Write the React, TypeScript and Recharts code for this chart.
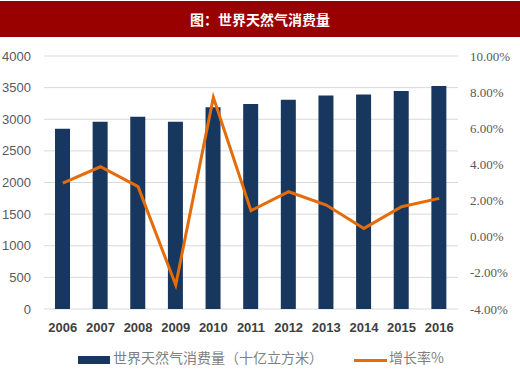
import React from 'react';
import { ComposedChart, Bar, Line, XAxis, YAxis, CartesianGrid } from 'recharts';

const years = ['2006', '2007', '2008', '2009', '2010', '2011', '2012', '2013', '2014', '2015', '2016'];
const consumption = [2850, 2960, 3040, 2960, 3190, 3240, 3310, 3375, 3390, 3447, 3527];
const growth = [2.97, 3.87, 2.77, -2.67, 7.71, 1.44, 2.49, 1.75, 0.46, 1.66, 2.12];
const leftTicks = [0, 500, 1000, 1500, 2000, 2500, 3000, 3500, 4000];
const rightTicks = [-4, -2, 0, 2, 4, 6, 8, 10];

const title = '图：世界天然气消费量';
const barName = '世界天然气消费量（十亿立方米）';
const lineName = '增长率%';

const data = years.map((y, i) => ({ year: y, consumption: consumption[i], growth: growth[i] }));

export default function App() {
  return (
    <div style={{ position: 'absolute', left: 0, top: 0, width: 520, height: 371, background: '#fff', overflow: 'hidden' }}>
      <div
        style={{
          position: 'absolute', left: 0, top: 1, width: 520, height: 36, background: '#990000',
          color: '#fff', fontFamily: '"Noto Sans CJK SC", sans-serif', fontWeight: 700, fontSize: 14,
          lineHeight: '36px', textAlign: 'center', letterSpacing: 0,
        }}
      >
        {title}
      </div>
      <div style={{ position: 'absolute', left: 0, top: 0 }}>
        <ComposedChart width={520} height={371} data={data} margin={{ top: 56, right: 0, bottom: 32, left: 0 }}>
          <CartesianGrid vertical={false} stroke="#d9d9d9" yAxisId="left" />
          <XAxis
            dataKey="year"
            axisLine={false}
            tickLine={false}
            height={30}
            tickMargin={8}
            interval={0}
            tick={{ fill: '#404040', fontSize: 13, fontWeight: 700, fontFamily: '"Liberation Sans", sans-serif' }}
          />
          <YAxis
            yAxisId="left"
            orientation="left"
            width={44}
            domain={[0, 4000]}
            ticks={leftTicks}
            axisLine={false}
            tickLine={false}
            tickMargin={7}
            tick={{ fill: '#595959', fontSize: 13, fontFamily: '"Liberation Sans", sans-serif' }}
          />
          <YAxis
            yAxisId="right"
            orientation="right"
            width={62}
            domain={[-4, 10]}
            ticks={rightTicks}
            axisLine={false}
            tickLine={false}
            tickMargin={6}
            tickFormatter={(v: number) => `${v.toFixed(2)}%`}
            tick={{ fill: '#595959', fontSize: 13, fontFamily: '"Liberation Serif", serif' }}
          />
          <Bar yAxisId="left" dataKey="consumption" fill="#17375E" barSize={15} isAnimationActive={false} />
          <Line
            yAxisId="right"
            dataKey="growth"
            type="linear"
            stroke="#E46C0A"
            strokeWidth={3}
            dot={false}
            isAnimationActive={false}
          />
        </ComposedChart>
      </div>
      <div style={{ position: 'absolute', left: 78, top: 356, width: 32, height: 8, background: '#17375E' }} />
      <div
        style={{
          position: 'absolute', left: 113, top: 347, height: 20, lineHeight: '20px', fontSize: 14,
          color: '#7f7f7f', fontFamily: '"Noto Sans CJK SC", sans-serif', whiteSpace: 'nowrap',
        }}
      >
        {barName}
      </div>
      <div style={{ position: 'absolute', left: 354, top: 359, width: 33, height: 3, background: '#E46C0A' }} />
      <div
        style={{
          position: 'absolute', left: 389, top: 347, height: 20, lineHeight: '20px', fontSize: 14,
          color: '#7f7f7f', fontFamily: '"Noto Sans CJK SC", sans-serif', whiteSpace: 'nowrap',
        }}
      >
        {lineName}
      </div>
    </div>
  );
}
